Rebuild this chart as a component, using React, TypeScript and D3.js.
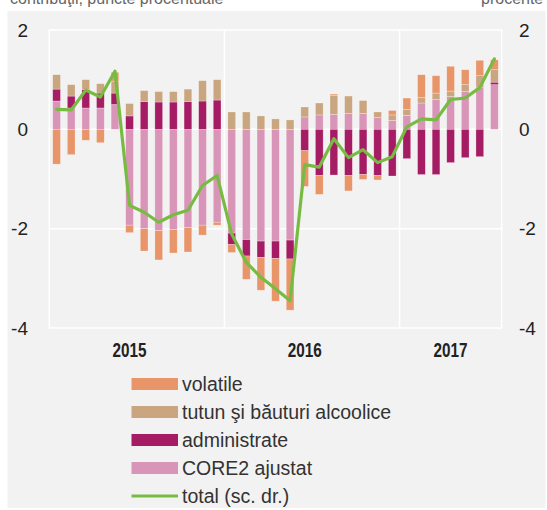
import React from "react";
import * as d3 from "d3";

const months = [
  "ian.15","feb.15","mar.15","apr.15","mai.15","iun.15","iul.15","aug.15","sep.15","oct.15","nov.15","dec.15",
  "ian.16","feb.16","mar.16","apr.16","mai.16","iun.16","iul.16","aug.16","sep.16","oct.16","nov.16","dec.16",
  "ian.17","feb.17","mar.17","apr.17","mai.17","iun.17","iul.17",
];

const volatile = [-0.70,-0.51,-0.22,-0.27,0.18,-0.15,-0.45,-0.59,-0.47,-0.49,-0.20,-0.06,-0.16,-0.47,-0.66,-0.86,-1.03,-0.72,-0.38,0.03,-0.31,-0.10,-0.09,0.09,0.23,0.46,0.35,0.50,0.30,0.31,0.20];
const tutun = [0.29,0.23,0.20,0.19,0.24,0.25,0.22,0.21,0.21,0.25,0.41,0.41,0.35,0.35,0.27,0.21,0.19,0.20,0.24,0.38,0.35,0.26,0.11,0.11,0.12,0.11,0.13,0.11,0.14,0.23,0.25];
const administrate = [0.24,0.24,0.37,0.30,0.23,0.27,0.56,0.55,0.55,0.56,0.57,0.59,-0.23,-0.33,-0.33,-0.35,-0.38,-0.43,-0.93,-0.92,-0.93,-0.91,-0.93,-0.94,-0.59,-0.91,-0.91,-0.67,-0.57,-0.55,0.05];
const core2 = [0.57,0.43,0.43,0.43,0.50,-1.93,-2.00,-2.04,-2.02,-1.98,-1.93,-1.87,-2.09,-2.22,-2.25,-2.25,-2.23,0.25,0.29,0.30,0.32,0.32,0.24,0.18,0.28,0.53,0.60,0.66,0.76,0.85,0.90];
const total = [0.40,0.39,0.79,0.65,1.17,-1.53,-1.67,-1.87,-1.72,-1.63,-1.13,-0.93,-2.11,-2.68,-2.98,-3.21,-3.45,-0.71,-0.76,-0.19,-0.57,-0.41,-0.67,-0.55,0.05,0.21,0.19,0.60,0.63,0.84,1.42];

const yTicks = [2, 0, -2, -4];
const yearLabels = ["2015", "2016", "2017"];
const yearLabelAt = ["iun.15", "iun.16", "apr.17"];
const yearStarts = ["ian.16", "ian.17"];

const seriesKeys = ["core2", "administrate", "tutun", "volatile"];
const seriesColors: Record<string, string> = {
  volatile: "#e8956a",
  tutun: "#c9a67f",
  administrate: "#a61c64",
  core2: "#d995b7",
};
const legendItems = [
  { key: "volatile", label: "volatile" },
  { key: "tutun", label: "tutun şi băuturi alcoolice" },
  { key: "administrate", label: "administrate" },
  { key: "core2", label: "CORE2 ajustat" },
  { key: "total", label: "total (sc. dr.)" },
];
const lineColor = "#77bb43";

export default function App() {
  const W = 547, H = 510;
  const left = 49.3, right = 501.7, top = 30, bottom = 328;

  const rows = months.map((m, i) => ({
    month: m,
    core2: core2[i],
    administrate: administrate[i],
    tutun: tutun[i],
    volatile: volatile[i],
  }));

  const x = d3.scaleBand<string>().domain(months).range([left, right]).paddingInner(0.47).paddingOuter(0.235);
  const y = d3.scaleLinear().domain([-4, 2]).range([bottom, top]);
  const step = x.step();
  const cx = (m: string) => (x(m) as number) + x.bandwidth() / 2;

  const stack = d3.stack<any>().keys(seriesKeys).offset(d3.stackOffsetDiverging);
  const stacked = stack(rows);

  const line = d3.line<number>().x((_, i) => cx(months[i])).y((d) => y(d));

  const tickFont = "'Liberation Sans', Arial, sans-serif";
  const legendFont = "'Liberation Sans', Arial, sans-serif";

  return (
    <svg width={W} height={H} style={{ position: "absolute", left: 0, top: 0 }}>
      <rect x={0} y={0} width={W} height={H} fill="#ffffff" />
      <text x={10} y={4} fontSize={16} fill="#666" fontFamily={legendFont}>contribuţii, puncte procentuale</text>
      <text x={481} y={4} fontSize={16} fill="#666" fontFamily={legendFont}>procente</text>
      <rect x={7.5} y={11} width={538} height={497} fill="#f2f2f2" />

      {/* grid */}
      <rect x={left} y={top} width={right - left} height={bottom - top} fill="none" stroke="#ffffff" strokeWidth={1.5} />
      {[0, -2].map((t) => (
        <line key={t} x1={left} x2={right} y1={y(t)} y2={y(t)} stroke="#ffffff" strokeWidth={1.5} />
      ))}
      {yearStarts.map((m) => {
        const xx = (x(m) as number) - (step - x.bandwidth()) / 2;
        return <line key={m} x1={xx} x2={xx} y1={top} y2={bottom} stroke="#ffffff" strokeWidth={1.5} />;
      })}

      {/* bars */}
      {stacked.map((s) => (
        <g key={s.key} fill={seriesColors[s.key]}>
          {s.map((d, i) => {
            const y0 = y(d[0]), y1 = y(d[1]);
            const h = Math.abs(y0 - y1);
            if (h < 0.01) return null;
            return (
              <rect
                key={i}
                x={x(months[i]) as number}
                y={Math.min(y0, y1)}
                width={x.bandwidth()}
                height={h}
                stroke="rgba(255,255,255,0.45)"
                strokeWidth={0.6}
              />
            );
          })}
        </g>
      ))}

      {/* total line */}
      <path d={line(total) || ""} fill="none" stroke={lineColor} strokeWidth={3.2} strokeLinejoin="round" strokeLinecap="round" />

      {/* y axes */}
      {yTicks.map((t) => (
        <g key={t} fontFamily={tickFont} fontSize={19} fill="#222">
          <text x={28} y={y(t)} dy="0.35em" textAnchor="end">{t}</text>
          <text x={519} y={y(t)} dy="0.35em" textAnchor="start">{t}</text>
        </g>
      ))}

      {/* x labels */}
      {yearLabels.map((lab, i) => (
        <text key={lab} x={cx(yearLabelAt[i])} y={357} textAnchor="middle" fontFamily={tickFont} fontWeight="bold" fontSize={21} fill="#222" textLength={34} lengthAdjust="spacingAndGlyphs">{lab}</text>
      ))}

      {/* legend */}
      {legendItems.map((it, i) => {
        const ly = 384 + i * 28;
        return (
          <g key={it.key}>
            {it.key === "total" ? (
              <line x1={131.5} x2={178} y1={ly} y2={ly} stroke={lineColor} strokeWidth={3} />
            ) : (
              <rect x={131.5} y={ly - 6} width={46.5} height={12} fill={seriesColors[it.key]} />
            )}
            <text x={182} y={ly} dy="0.35em" fontFamily={legendFont} fontSize={19.5} fill="#333">{it.label}</text>
          </g>
        );
      })}
    </svg>
  );
}
